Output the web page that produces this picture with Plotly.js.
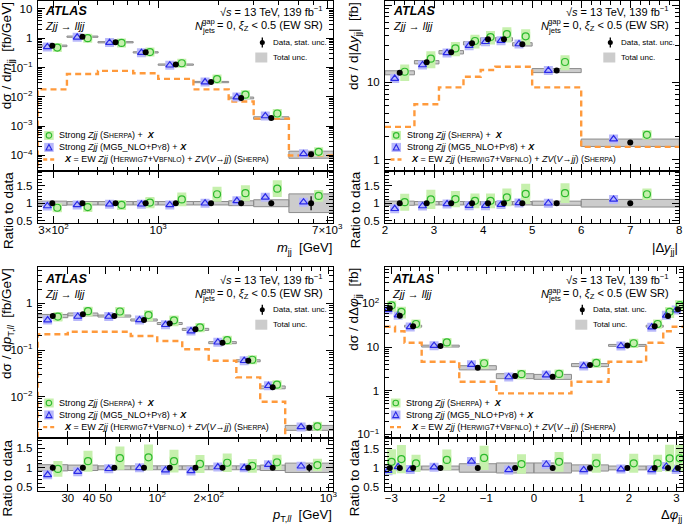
<!DOCTYPE html>
<html>
<head>
<meta charset="utf-8">
<script src="https://cdn.plot.ly/plotly-3.0.1.min.js"></script>
<style>
  html, body { margin: 0; padding: 0; background: #fff; }
  #graph { width: 685px; height: 525px; }
</style>
</head>
<body>
<div id="graph"></div>
<script>
const W = 685;
const H = 525;
const FONT = '"Liberation Sans", Arial, Helvetica, sans-serif';

// ---- m_jj
const mjjEdges = [250, 350, 500, 750, 1000, 1500, 2250, 3000, 4500, 7500];
const mjjData = [0.55, 1.13, 0.73, 0.33, 0.126, 0.032, 0.0092, 0.0019, 0.00011];
const mjjStat = [0.03, 0.02, 0.02, 0.02, 0.03, 0.03, 0.04, 0.07, 0.2];
const mjjTotal = [0.06, 0.05, 0.05, 0.05, 0.05, 0.05, 0.07, 0.1, 0.27];
const mjjEW = [0.018, 0.06, 0.077, 0.064, 0.041, 0.018, 0.0069, 0.0018, 0.0001];
const mjjSherpa = [0.87, 0.89, 0.95, 1.02, 1.11, 1.26, 1.29, 1.42, 1.21];
const mjjSherpaUnc = [0.14, 0.16, 0.15, 0.16, 0.18, 0.17, 0.18, 0.17, 0.14];
const mjjMG5 = [0.92, 0.95, 0.97, 0.97, 0.95, 1.0, 1.07, 1.17, 1.03];
const mjjMG5Unc = [0.04, 0.04, 0.04, 0.04, 0.04, 0.04, 0.04, 0.04, 0.04];
const mjjXTicks = [300, 1000, 7000];
const mjjXText = ["3×10<sup>2</sup>", "10<sup>3</sup>", "7×10<sup>3</sup>"];
const mjjYTicks = [1e-4, 1e-3, 1e-2, 1e-1, 1, 10];
const mjjYText = ["10<sup>−4</sup>", "10<sup>−3</sup>", "10<sup>−2</sup>", "10<sup>−1</sup>", "1", "10"];

// ---- |dy_jj|
const dyEdges = [2, 2.6, 3.1, 3.6, 3.95, 4.25, 4.6, 5, 6, 8];
const dyData = [13.3, 18.2, 24.5, 32, 36, 36, 31, 14.2, 1.66];
const dyStat = [0.03, 0.02, 0.02, 0.02, 0.02, 0.02, 0.02, 0.03, 0.06];
const dyTotal = [0.06, 0.05, 0.05, 0.05, 0.05, 0.05, 0.05, 0.06, 0.11];
const dyEW = [2.65, 5.2, 8.6, 11.8, 14.4, 15.9, 15.9, 8.6, 1.46];
const dySherpa = [1.03, 1.11, 1.12, 1.07, 1.07, 1.17, 1.27, 1.29, 1.26];
const dySherpaUnc = [0.24, 0.25, 0.21, 0.2, 0.2, 0.22, 0.23, 0.22, 0.13];
const dyMG5 = [0.84, 0.92, 0.98, 0.93, 0.93, 0.96, 1.01, 1.0, 1.11];
const dyMG5Unc = [0.04, 0.04, 0.04, 0.04, 0.04, 0.04, 0.04, 0.04, 0.04];
const dyXTicks = [2, 3, 4, 5, 6, 7, 8];
const dyXText = ["2", "3", "4", "5", "6", "7", "8"];
const dyYTicks = [1, 10, 100];
const dyYText = ["1", "10", "10<sup>2</sup>"];

// ---- pT,ll
const ptEdges = [20, 30, 45, 70, 100, 140, 200, 290, 400, 560, 1070];
const ptData = [0.535, 0.58, 0.535, 0.44, 0.37, 0.277, 0.144, 0.059, 0.0159, 0.00217];
const ptStat = [0.06, 0.03, 0.02, 0.02, 0.02, 0.02, 0.02, 0.03, 0.04, 0.1];
const ptTotal = [0.08, 0.07, 0.05, 0.05, 0.05, 0.05, 0.05, 0.05, 0.07, 0.12];
const ptEW = [0.217, 0.247, 0.247, 0.2, 0.156, 0.104, 0.059, 0.026, 0.0078, 0.0013];
const ptSherpa = [0.97, 1.17, 1.25, 1.27, 1.17, 1.1, 1.13, 1.05, 1.14, 1.07];
const ptSherpaUnc = [0.21, 0.23, 0.24, 0.26, 0.25, 0.21, 0.21, 0.17, 0.17, 0.15];
const ptMG5 = [0.82, 0.9, 0.975, 1.0, 0.94, 0.92, 1.02, 1.0, 1.08, 1.04];
const ptMG5Unc = [0.04, 0.04, 0.04, 0.04, 0.04, 0.04, 0.04, 0.04, 0.04, 0.04];
const ptXTicks = [30, 40, 50, 100, 200, 1000];
const ptXText = ["30", "40", "50", "10<sup>2</sup>", "2×10<sup>2</sup>", "10<sup>3</sup>"];
const ptYTicks = [0.01, 0.1, 1];
const ptYText = ["10<sup>−2</sup>", "10<sup>−1</sup>", "1"];

// ---- dphi_jj
const phiEdges = [-3.14, -2.92, -2.72, -2.36, -1.57, -0.79, 0, 0.79, 1.57, 2.36, 2.72, 2.92, 3.14];
const phiData = [77, 52, 30, 10.5, 3.37, 2.17, 2.09, 3.87, 10.9, 30, 51, 73];
const phiStat = [0.05, 0.04, 0.03, 0.03, 0.06, 0.06, 0.06, 0.05, 0.03, 0.03, 0.04, 0.05];
const phiTotal = [0.07, 0.06, 0.05, 0.05, 0.11, 0.13, 0.13, 0.08, 0.05, 0.05, 0.06, 0.07];
const phiEW = [29, 23, 12.5, 4.6, 1.6, 0.87, 0.87, 1.6, 4.6, 12.5, 23, 29];
const phiSherpa = [1.16, 1.23, 1.12, 1.21, 1.26, 1.1, 1.16, 1.12, 1.12, 1.12, 1.25, 1.25];
const phiSherpaUnc = [0.28, 0.3, 0.2, 0.22, 0.25, 0.23, 0.22, 0.22, 0.22, 0.2, 0.28, 0.28];
const phiMG5 = [0.93, 1.03, 0.96, 1.02, 1.17, 0.95, 1.09, 0.95, 0.97, 0.95, 1.04, 0.96];
const phiMG5Unc = [0.04, 0.04, 0.04, 0.04, 0.04, 0.04, 0.04, 0.04, 0.04, 0.04, 0.04, 0.04];
const phiXTicks = [-3, -2, -1, 0, 1, 2, 3];
const phiXText = ["−3", "−2", "−1", "0", "1", "2", "3"];
const phiYTicks = [0.1, 1, 10, 100];
const phiYText = ["10<sup>−1</sup>", "1", "10", "10<sup>2</sup>"];

const ratioTicks = [0.5, 1, 1.5];
const ratioText = ["0.5", "1", "1.5"];

const GREEN = "#2dbb2d";
const GREEN_FILL = "#c6f0ad";
const BLUE = "#2a2ae6";
const BLUE_FILL = "#b8b8fa";
const ORANGE = "#ff9a3c";
const GREY_FILL = "#cccccc";
const GREY_LINE = "#8c8c8c";

const panels = [
  {
    edges: mjjEdges, data: mjjData, stat: mjjStat, total: mjjTotal, ew: mjjEW,
    sherpa: mjjSherpa, sherpaUnc: mjjSherpaUnc, mg5: mjjMG5, mg5Unc: mjjMG5Unc,
    log: true, ewFromFloor: true,
    xRange: [250, 7500], yRange: [-4.52, 1.27], rRange: [0.42, 1.94],
    xTicks: mjjXTicks, xText: mjjXText, yTicks: mjjYTicks, yText: mjjYText,
    yTitle: "dσ / d<i>m</i><sub>jj</sub>  [fb/GeV]",
    xTitle: "<i>m</i><sub>jj</sub>  [GeV]",
    box: { left: 37.7, right: 333.3, top: 1, mid: 170.7, bottom: 223.3 },
    textDy: 0, legX: -71, xTitleTop: 239,
  },
  {
    edges: dyEdges, data: dyData, stat: dyStat, total: dyTotal, ew: dyEW,
    sherpa: dySherpa, sherpaUnc: dySherpaUnc, mg5: dyMG5, mg5Unc: dyMG5Unc,
    log: false, ewFromFloor: false,
    xRange: [2, 8], yRange: [-0.144, 2.052], rRange: [0.42, 1.94],
    xTicks: dyXTicks, xText: dyXText, yTicks: dyYTicks, yText: dyYText,
    yTitle: "dσ / d|Δ<i>y</i><sub>jj</sub>|  [fb]",
    xTitle: "|Δ<i>y</i><sub>jj</sub>|",
    box: { left: 385, right: 679.3, top: 1, mid: 170.7, bottom: 223.3 },
    textDy: 0, legX: -69, xTitleTop: 239,
  },
  {
    edges: ptEdges, data: ptData, stat: ptStat, total: ptTotal, ew: ptEW,
    sherpa: ptSherpa, sherpaUnc: ptSherpaUnc, mg5: ptMG5, mg5Unc: ptMG5Unc,
    log: true, ewFromFloor: true,
    xRange: [20, 1070], yRange: [-2.89, 0.784], rRange: [0.41, 1.76],
    xTicks: ptXTicks, xText: ptXText, yTicks: ptYTicks, yText: ptYText,
    yTitle: "dσ / d<i>p</i><sub>T,<i>ll</i></sub>  [fb/GeV]",
    xTitle: "<i>p</i><sub>T,<i>ll</i></sub>  [GeV]",
    box: { left: 37.7, right: 333.3, top: 266.7, mid: 438.3, bottom: 490.7 },
    textDy: 2.5, legX: -71, xTitleTop: 505.5,
  },
  {
    edges: phiEdges, data: phiData, stat: phiStat, total: phiTotal, ew: phiEW,
    sherpa: phiSherpa, sherpaUnc: phiSherpaUnc, mg5: phiMG5, mg5Unc: phiMG5Unc,
    log: false, ewFromFloor: false,
    xRange: [-3.1416, 3.1416], yRange: [-1.089, 2.838], rRange: [0.41, 1.77],
    xTicks: phiXTicks, xText: phiXText, yTicks: phiYTicks, yText: phiYText,
    yTitle: "dσ / dΔ<i>φ</i><sub>jj</sub>  [fb]",
    xTitle: "Δ<i>φ</i><sub>jj</sub>",
    box: { left: 384.5, right: 683.3, top: 266.7, mid: 438.3, bottom: 490.7 },
    textDy: 2.5, legX: -101, xTitleTop: 505.5, textRight: -13,
  },
];

const fx = (x) => x / W;
const fy = (y) => 1 - y / H;

// position inside a bin at fraction f of its width
function along(a, b, log, f) {
  if (log) return Math.pow(10, Math.log10(a) + f * (Math.log10(b) - Math.log10(a)));
  return a + f * (b - a);
}

function logMinor(lo, hi, skip) {
  const out = [];
  for (let e = Math.floor(Math.log10(lo)) - 1; e <= Math.ceil(Math.log10(hi)); e++) {
    for (let d = 2; d <= 9; d++) {
      const v = d * Math.pow(10, e);
      if (v > lo * 1.0001 && v < hi * 0.9999 && !skip.some((s) => Math.abs(s - v) / v < 1e-6)) out.push(v);
    }
  }
  return out;
}

const canvas = document.createElement("canvas");
const ctx = canvas.getContext("2d");
function textWidth(str, size, style) {
  ctx.font = (style || "") + " " + size + "px " + FONT;
  return ctx.measureText(str).width;
}

const traces = [];
const layout = {
  width: W,
  height: H,
  margin: { l: 0, r: 0, t: 0, b: 0 },
  showlegend: false,
  paper_bgcolor: "#ffffff",
  plot_bgcolor: "rgba(0,0,0,0)",
  font: { family: FONT, size: 11.5, color: "#000" },
  annotations: [],
  shapes: [],
};

function addText(text, x, y, size, opts) {
  layout.annotations.push(Object.assign({
    xref: "paper", yref: "paper", x: fx(x), y: fy(y), text: text,
    showarrow: false, xanchor: "left", yanchor: "middle", borderpad: 0,
    font: { family: FONT, size: size, color: "#000" },
  }, opts || {}));
}

function addRect(x0, y0, x1, y1, fill, line) {
  layout.shapes.push({
    type: "rect", xref: "paper", yref: "paper",
    x0: fx(x0), x1: fx(x1), y0: fy(y1), y1: fy(y0),
    fillcolor: fill, line: { color: line || fill, width: line ? 1 : 0 },
  });
}

function frameAxis(extra) {
  return Object.assign({
    showline: true, linecolor: "#000", linewidth: 1, mirror: "allticks",
    ticks: "inside", ticklen: 7, tickwidth: 1, tickcolor: "#000",
    showgrid: false, zeroline: false, fixedrange: true,
    tickfont: { family: FONT, size: 11.5, color: "#000" },
    tickmode: "array",
  }, extra);
}

function minorAxis(extra) {
  return Object.assign({ ticks: "inside", ticklen: 4, tickwidth: 1, tickcolor: "#000", showgrid: false }, extra);
}

panels.forEach((p, i) => {
  const nMain = 2 * i + 1;
  const nRatio = 2 * i + 2;
  const xm = "x" + (nMain === 1 ? "" : nMain);
  const ym = "y" + (nMain === 1 ? "" : nMain);
  const xr = "x" + nRatio;
  const yr = "y" + nRatio;
  const b = p.box;
  const n = p.data.length;

  const xMinor = p.log
    ? minorAxis({ tickmode: "array", tickvals: logMinor(p.xRange[0], p.xRange[1], p.xTicks) })
    : minorAxis({ tickmode: "linear", tick0: 0, dtick: 0.2 });
  const xRange = p.log ? p.xRange.map(Math.log10) : p.xRange;
  const xCommon = {
    domain: [fx(b.left), fx(b.right)],
    type: p.log ? "log" : "linear",
    range: xRange,
    tickvals: p.xTicks,
    ticktext: p.xText,
    minor: xMinor,
  };
  layout["xaxis" + (nMain === 1 ? "" : nMain)] = frameAxis(Object.assign({}, xCommon, { anchor: ym, showticklabels: false }));
  layout["xaxis" + nRatio] = frameAxis(Object.assign({}, xCommon, { anchor: yr, showticklabels: true, ticklabelstandoff: -4 }));
  layout["yaxis" + (nMain === 1 ? "" : nMain)] = frameAxis({
    domain: [fy(b.mid), fy(b.top)], anchor: xm, type: "log", range: p.yRange,
    tickvals: p.yTicks, ticktext: p.yText, ticklabelstandoff: 2,
    minor: minorAxis({ tickmode: "array", tickvals: logMinor(Math.pow(10, p.yRange[0]), Math.pow(10, p.yRange[1]), p.yTicks) }),
  });
  layout["yaxis" + nRatio] = frameAxis({
    domain: [fy(b.bottom), fy(b.mid)], anchor: xr, type: "linear", range: p.rRange,
    tickvals: ratioTicks, ticktext: ratioText, ticklabelstandoff: 2,
    minor: minorAxis({ tickmode: "linear", tick0: 0, dtick: 0.1 }),
  });

  const xData = [], xMG5 = [], xSherpa = [];
  for (let k = 0; k < n; k++) {
    xData.push(along(p.edges[k], p.edges[k + 1], p.log, 0.5));
    xMG5.push(along(p.edges[k], p.edges[k + 1], p.log, 0.33));
    xSherpa.push(along(p.edges[k], p.edges[k + 1], p.log, 0.67));
  }

  // total uncertainty boxes
  function boxes(centre, axX, axY) {
    const bx = [], by = [];
    for (let k = 0; k < n; k++) {
      const lo = centre[k] * (1 - p.total[k]);
      const hi = centre[k] * (1 + p.total[k]);
      bx.push(p.edges[k], p.edges[k + 1], p.edges[k + 1], p.edges[k], p.edges[k], null);
      by.push(lo, lo, hi, hi, lo, null);
    }
    return {
      x: bx, y: by, xaxis: axX, yaxis: axY, type: "scatter", mode: "lines",
      fill: "toself", fillcolor: GREY_FILL, line: { color: GREY_LINE, width: 1 }, hoverinfo: "skip",
    };
  }

  function band(xs, ys, unc, fill, axX, axY) {
    return {
      x: xs, y: ys, xaxis: axX, yaxis: axY, type: "scatter", mode: "markers",
      marker: { symbol: "square", size: 9, color: fill, line: { width: 0 } },
      error_y: { type: "data", array: ys.map((v, k) => v * unc[k]), thickness: 9, width: 0, color: fill },
      hoverinfo: "skip",
    };
  }

  function openMarker(xs, ys, symbol, color, axX, axY) {
    return {
      x: xs, y: ys, xaxis: axX, yaxis: axY, type: "scatter", mode: "markers",
      marker: { symbol: symbol, size: 7, color: color, line: { color: color, width: 1.2 } },
      hoverinfo: "skip",
    };
  }

  function dataPoints(ys, axX, axY) {
    return {
      x: xData, y: ys, xaxis: axX, yaxis: axY, type: "scatter", mode: "markers",
      marker: { symbol: "circle", size: 6, color: "#000" },
      error_y: { type: "data", array: ys.map((v, k) => v * p.stat[k]), thickness: 1.3, width: 0, color: "#000" },
      hoverinfo: "skip",
    };
  }

  // main panel
  const mg5Main = p.data.map((v, k) => v * p.mg5[k]);
  const sherpaMain = p.data.map((v, k) => v * p.sherpa[k]);
  traces.push(boxes(p.data, xm, ym));

  const ewX = p.edges.slice();
  const ewY = p.ew.concat([p.ew[n - 1]]);
  if (p.ewFromFloor) {
    ewX.unshift(p.edges[0]);
    ewY.unshift(Math.pow(10, p.yRange[0] - 0.2));
  }
  traces.push({
    x: ewX, y: ewY, xaxis: xm, yaxis: ym, type: "scatter", mode: "lines",
    line: { shape: "hv", color: ORANGE, width: 2.4, dash: "6px,4px" }, hoverinfo: "skip",
  });
  traces.push(band(xMG5, mg5Main, p.mg5Unc, BLUE_FILL, xm, ym));
  traces.push(band(xSherpa, sherpaMain, p.sherpaUnc, GREEN_FILL, xm, ym));
  traces.push(openMarker(xMG5, mg5Main, "triangle-up-open", BLUE, xm, ym));
  traces.push(openMarker(xSherpa, sherpaMain, "circle-open", GREEN, xm, ym));
  traces.push(dataPoints(p.data, xm, ym));

  // ratio panel
  const ones = p.data.map(() => 1);
  traces.push(boxes(ones, xr, yr));
  traces.push(band(xMG5, p.mg5, p.mg5Unc, BLUE_FILL, xr, yr));
  traces.push(band(xSherpa, p.sherpa, p.sherpaUnc, GREEN_FILL, xr, yr));
  traces.push(openMarker(xMG5, p.mg5, "triangle-up-open", BLUE, xr, yr));
  traces.push(openMarker(xSherpa, p.sherpa, "circle-open", GREEN, xr, yr));
  traces.push(dataPoints(ones, xr, yr));

  // texts
  const L = b.left, R = b.right, T = b.top + p.textDy;
  addText("<b><i>ATLAS</i></b>", L + 6.5, T + 10, 12.5);
  addText("<i>Zjj</i> → <i>lljj</i>", L + 6.5, T + 24.5, 11);
  const tr = R + (p.textRight || -9);
  addText("√<i>s</i> = 13 TeV, 139 fb<sup>−1</sup>", tr, T + 10, 11, { xanchor: "right" });
  const restW = textWidth(" = 0, ", 11) + textWidth("ξ", 11, "italic") + textWidth("Z", 7.7) + textWidth(" < 0.5 (EW SR)", 11);
  addText(" = 0, <i>ξ</i><sub>Z</sub> &lt; 0.5 (EW SR)", tr, T + 25, 11, { xanchor: "right" });
  const gx = tr - restW;
  addText("gap", gx, T + 21, 7.7, { xanchor: "right" });
  addText("jets", gx, T + 29, 7.7, { xanchor: "right" });
  addText("<i>N</i>", gx - textWidth("jets", 7.7), T + 25, 11, { xanchor: "right" });

  // data legend
  const mx = R + p.legX;
  const ly = b.top + 41.5 + p.textDy * 0.6;
  layout.shapes.push({ type: "line", xref: "paper", yref: "paper", x0: fx(mx), x1: fx(mx), y0: fy(ly - 5), y1: fy(ly + 5), line: { color: "#000", width: 1.3 } });
  layout.shapes.push({ type: "circle", xref: "paper", yref: "paper", x0: fx(mx - 2.5), x1: fx(mx + 2.5), y0: fy(ly + 2.5), y1: fy(ly - 2.5), fillcolor: "#000", line: { color: "#000", width: 0 } });
  addText("Data, stat. unc.", mx + 9.5, ly, 8);
  addRect(mx - 7, ly + 10, mx + 5, ly + 20, GREY_FILL);
  addText("Total unc.", mx + 9.5, ly + 15, 8);

  // model legend
  const r1 = b.mid - 35.3, r2 = b.mid - 23.3, r3 = b.mid - 11.2;
  const gl = L + 6.5;
  addRect(gl, r1 - 4.5, gl + 9.5, r1 + 4.5, GREEN_FILL);
  layout.shapes.push({ type: "circle", xref: "paper", yref: "paper", x0: fx(gl + 2), x1: fx(gl + 7.5), y0: fy(r1 + 2.75), y1: fy(r1 - 2.75), line: { color: GREEN, width: 1.1 } });
  addRect(gl, r2 - 4.5, gl + 9.5, r2 + 4.5, BLUE_FILL);
  layout.shapes.push({
    type: "path", xref: "paper", yref: "paper",
    path: "M " + fx(gl + 1.8) + " " + fy(r2 + 2.6) + " L " + fx(gl + 7.7) + " " + fy(r2 + 2.6) + " L " + fx(gl + 4.75) + " " + fy(r2 - 3) + " Z",
    line: { color: BLUE, width: 1.1 },
  });
  layout.shapes.push({ type: "line", xref: "paper", yref: "paper", x0: fx(gl - 1), x1: fx(gl + 12), y0: fy(r3), y1: fy(r3), line: { color: ORANGE, width: 2.4, dash: "4px,3px" } });
  const sc = (s) => '<span style="font-size:6.8px">' + s + "</span>";
  addText("Strong <i>Zjj</i> (S" + sc("HERPA") + ") +  <b><i>X</i></b>", L + 20.5, r1, 9);
  addText("Strong <i>Zjj</i> (MG5_NLO+P" + sc("Y") + "8) + <b><i>X</i></b>", L + 20.5, r2, 9);
  addText("<b><i>X</i></b> = EW <i>Zjj</i> (H" + sc("ERWIG") + "7+V" + sc("BFNLO") + ") + <i>ZV</i>(<i>V</i>→<i>jj</i>) (S" + sc("HERPA") + ")", L + 25, r3, 9);

  // axis titles
  addText(p.yTitle, L - 30, b.top, 13.5, { textangle: -90, xanchor: "center", yanchor: "top" });
  addText("Ratio to data", L - 30, b.mid, 13.5, { textangle: -90, xanchor: "center", yanchor: "top" });
  addText(p.xTitle, R, p.xTitleTop, 13, { xanchor: "right", yanchor: "top" });
});

Plotly.newPlot("graph", traces, layout, { staticPlot: true, displayModeBar: false });
</script>
</body>
</html>
